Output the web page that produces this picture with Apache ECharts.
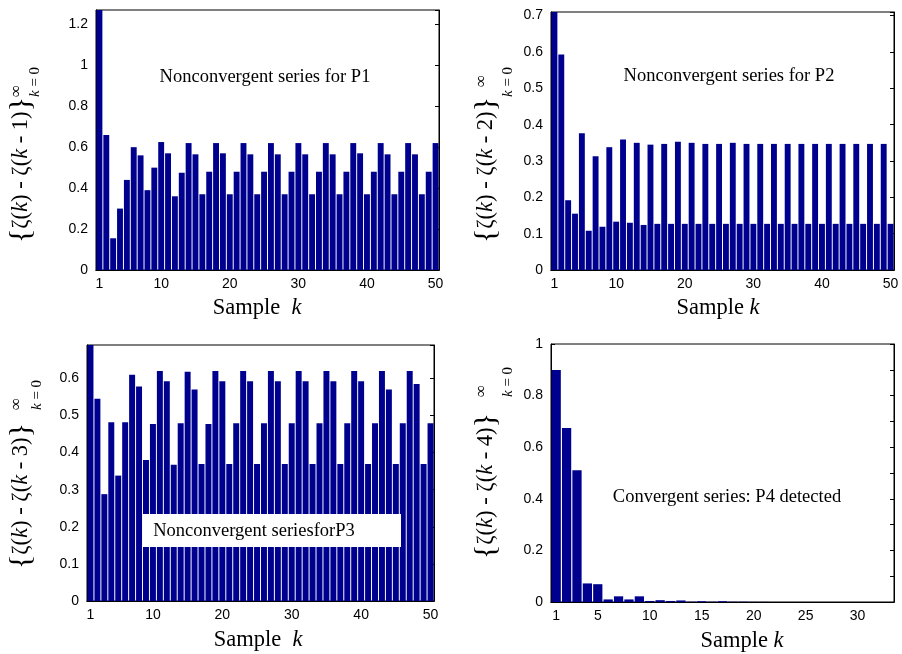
<!DOCTYPE html>
<html>
<head>
<meta charset="utf-8">
<title>Series P1-P4</title>
<script src="https://cdn.jsdelivr.net/npm/echarts@6/dist/echarts.min.js"></script>
</head>
<body style="margin:0;background:#fff">
<div id="main" style="width:902px;height:654px;"></div>
<script type="text/javascript">
// values
var p1Values = [1.35, 0.66, 0.155, 0.30, 0.44, 0.60, 0.56, 0.39, 0.50, 0.625,
    0.57, 0.36, 0.475, 0.62, 0.565, 0.37, 0.48, 0.62, 0.57, 0.37,
    0.48, 0.62, 0.565, 0.37, 0.48, 0.62, 0.565, 0.37, 0.48, 0.62,
    0.565, 0.37, 0.48, 0.62, 0.565, 0.37, 0.48, 0.62, 0.57, 0.37,
    0.48, 0.62, 0.565, 0.37, 0.48, 0.62, 0.565, 0.37, 0.48, 0.62];
var p2Values = [0.75, 0.593, 0.192, 0.155, 0.376, 0.108, 0.313, 0.119, 0.338, 0.133,
    0.359, 0.130, 0.350, 0.124, 0.345, 0.127, 0.347, 0.127, 0.353, 0.127,
    0.350, 0.127, 0.347, 0.127, 0.347, 0.127, 0.350, 0.127, 0.347, 0.127,
    0.347, 0.127, 0.347, 0.127, 0.347, 0.127, 0.347, 0.127, 0.347, 0.127,
    0.347, 0.127, 0.347, 0.127, 0.347, 0.127, 0.347, 0.127, 0.347, 0.127];
var p3Values = [0.70, 0.545, 0.288, 0.482, 0.338, 0.482, 0.610, 0.578, 0.380, 0.477,
    0.620, 0.592, 0.367, 0.479, 0.618, 0.570, 0.369, 0.477, 0.620, 0.592,
    0.369, 0.479, 0.620, 0.592, 0.369, 0.479, 0.620, 0.592, 0.369, 0.479,
    0.620, 0.592, 0.369, 0.479, 0.620, 0.592, 0.369, 0.479, 0.620, 0.592,
    0.369, 0.479, 0.620, 0.570, 0.369, 0.479, 0.620, 0.585, 0.369, 0.479];
var p4Values = [0.899, 0.674, 0.511, 0.072, 0.069, 0.010, 0.022, 0.010, 0.022, 0.004,
    0.007, 0.004, 0.006, 0.001, 0.003, 0.001, 0.003, 0.001, 0.001, 0.0005,
    0.0005, 0, 0, 0, 0, 0, 0, 0, 0, 0, 0, 0, 0];

var panelValues = [p1Values, p2Values, p3Values, p4Values];
var yMaxes = [1.27, 0.71, 0.69, 1];
var yIntervals = [0.2, 0.1, 0.1, 0.1];
var xLabelSteps = [10, 10, 10, 5];
var notes = ['Nonconvergent series for P1', 'Nonconvergent series for P2',
    'Nonconvergent seriesforP3', 'Convergent series: P4 detected'];
var lagLabels = ['1', '2', '3', '4'];

var grids = [
    {left: 96, top: 10, width: 343, height: 260},
    {left: 551, top: 12, width: 343, height: 258},
    {left: 87, top: 345, width: 347, height: 256},
    {left: 551, top: 344, width: 343, height: 258}
];

var barColor = '#00008f';
var sans = 'Liberation Sans';
var serif = 'Liberation Serif';

var xAxes = [], yAxes = [], series = [], grid = [];

panelValues.forEach(function (vals, i) {
    var cats = [];
    for (var k = 1; k <= vals.length; k++) cats.push(String(k));
    var step = xLabelSteps[i];

    grid.push(Object.assign({show: true, borderColor: '#000', borderWidth: 1}, grids[i]));

    var labelFn = function (idx) { return idx === 0 || (idx + 1) % step === 0; };
    var tickFn = function (idx) { return (idx + 1) % 5 === 0; };

    xAxes.push({
        type: 'category', gridIndex: i, data: cats, position: 'bottom',
        axisLine: {lineStyle: {color: '#000', width: 1}},
        axisTick: {inside: true, length: 4, alignWithLabel: true, interval: tickFn, lineStyle: {color: '#000'}},
        axisLabel: {interval: labelFn, color: '#000', fontFamily: sans, fontSize: 14, margin: 7},
        splitLine: {show: false}
    });
    xAxes.push({
        type: 'category', gridIndex: i, data: cats, position: 'top',
        axisLine: {lineStyle: {color: '#000', width: 1}},
        axisTick: {inside: true, length: 4, alignWithLabel: true, interval: tickFn, lineStyle: {color: '#000'}},
        axisLabel: {show: false},
        splitLine: {show: false}
    });

    var yFmt = i === 3 ? function (v) {
        return Math.round(v * 10) % 2 === 0 ? String(Math.round(v * 10) / 10) : '';
    } : null;

    yAxes.push({
        type: 'value', gridIndex: i, position: 'left',
        min: 0, max: yMaxes[i], interval: yIntervals[i],
        axisLine: {show: true, lineStyle: {color: '#000', width: 1}},
        axisTick: {show: true, inside: true, length: 4, lineStyle: {color: '#000'}},
        axisLabel: {color: '#000', fontFamily: sans, fontSize: 14, margin: 8,
            showMaxLabel: i !== 3 ? false : true, formatter: yFmt},
        splitLine: {show: false}
    });
    yAxes.push({
        type: 'value', gridIndex: i, position: 'right',
        min: 0, max: yMaxes[i], interval: yIntervals[i],
        axisLine: {show: true, lineStyle: {color: '#000', width: 1}},
        axisTick: {show: true, inside: true, length: 4, lineStyle: {color: '#000'}},
        axisLabel: {show: false},
        splitLine: {show: false}
    });

    series.push({
        type: 'bar', xAxisIndex: 2 * i, yAxisIndex: 2 * i,
        data: vals, barCategoryGap: i === 3 ? '11%' : '14%',
        itemStyle: {color: barColor}, clip: true
    });
});

// y-axis titles: {ζ(k) - ζ(k - m)} with ∞ on top and k = 0 below
function yTitle(x, y, lag, sup, sub) {
    return {
        type: 'group', x: x, y: y, rotation: Math.PI / 2, z: 100,
        children: [
            {type: 'text', z: 100, style: {
                text: '{b|{}{t|ζ(}{i|k}{t|) - ζ(}{i|k}{t| - ' + lag + ')}' + '}',
                x: 0, y: 0, align: 'right', verticalAlign: 'middle',
                fontFamily: serif, fontSize: 30, fill: '#000',
                rich: {
                    t: {fontFamily: serif, fontSize: 22.5, fill: '#000'},
                    i: {fontFamily: serif, fontSize: 22.5, fontStyle: 'italic', fill: '#000'}
                }
            }},
            {type: 'text', z: 100, style: {
                text: '∞', x: sup[0], y: sup[1], align: 'left', verticalAlign: 'middle',
                fontFamily: serif, fontSize: 17, fill: '#000'
            }},
            {type: 'text', z: 100, style: {
                text: '{i|k}{t| = 0}', x: sub[0], y: sub[1], align: 'left', verticalAlign: 'middle',
                fontFamily: serif, fontSize: 15, fill: '#000',
                rich: {
                    t: {fontFamily: serif, fontSize: 15, fill: '#000'},
                    i: {fontFamily: serif, fontSize: 15, fontStyle: 'italic', fill: '#000'}
                }
            }}
        ]
    };
}

function xTitle(cx, cy, gap) {
    return {
        type: 'text', z: 100, style: {
            text: '{t|Sample' + gap + '}{i|k}', x: cx, y: cy, align: 'center', verticalAlign: 'middle',
            rich: {
                t: {fontFamily: serif, fontSize: 22.5, fill: '#000'},
                i: {fontFamily: serif, fontSize: 22.5, fontStyle: 'italic', fill: '#000'}
            }
        }
    };
}

function note(cx, cy, txt) {
    return {
        type: 'text', z: 100, style: {
            text: txt, x: cx, y: cy, align: 'center', verticalAlign: 'middle',
            fontFamily: serif, fontSize: 18.5, fill: '#000'
        }
    };
}

var graphics = [
    yTitle(21, 97, lagLabels[0], [0, -4], [0, 14]),
    yTitle(486, 97, lagLabels[1], [10, -4], [0, 22]),
    yTitle(21, 423, lagLabels[2], [13, -4], [13, 16]),
    yTitle(486, 413, lagLabels[3], [16, -4], [16, 22]),
    xTitle(257, 308, '  '),
    xTitle(718, 308, ' '),
    xTitle(258, 640, '  '),
    xTitle(742, 641, ' '),
    note(265, 77, notes[0]),
    note(729, 76, notes[1]),
    {type: 'rect', z: 99, shape: {x: 143, y: 514, width: 258, height: 33}, style: {fill: '#fff'}},
    note(254, 531, notes[2]),
    note(727, 497, notes[3])
];

var myChart = echarts.init(document.getElementById('main'));
myChart.setOption({
    animation: false,
    backgroundColor: '#fff',
    grid: grid,
    xAxis: xAxes,
    yAxis: yAxes,
    series: series,
    graphic: graphics
});
</script>
</body>
</html>
